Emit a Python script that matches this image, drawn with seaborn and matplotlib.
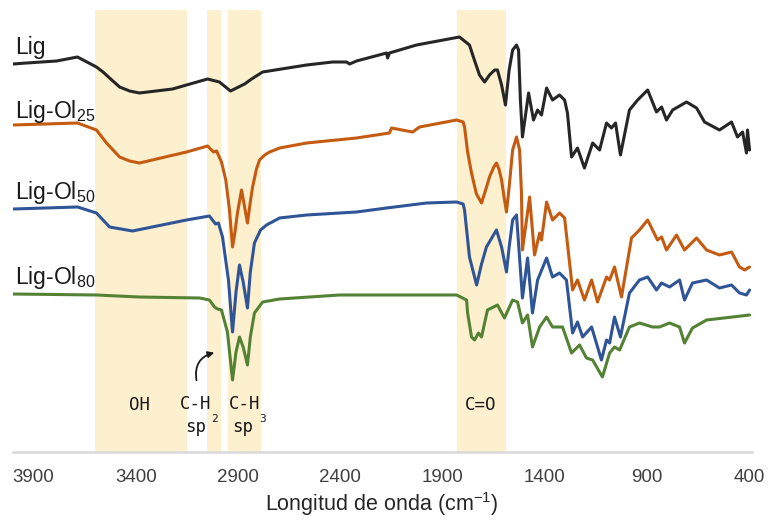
import numpy as np
import pandas as pd
import matplotlib.pyplot as plt
import seaborn as sns

# FTIR spectra (wavenumber cm-1, offset transmittance a.u.)
lig_wn = [4000, 3934, 3787, 3685, 3592, 3560, 3528, 3479, 3430, 3382, 3220, 3152, 3049, 2991, 2937,
          2868, 2834, 2780, 2565, 2438, 2370, 2355, 2321, 2174, 2169, 2160, 2028, 1818, 1769, 1745,
          1720, 1695, 1671, 1646, 1632, 1612, 1593, 1575, 1558, 1539, 1529, 1520, 1510, 1480, 1456,
          1436, 1417, 1392, 1363, 1329, 1304, 1290, 1270, 1241, 1207, 1167, 1133, 1099, 1075, 1055,
          1031, 987, 947, 898, 855, 830, 806, 776, 708, 659, 620, 547, 488, 459, 434, 415, 410, 400]
lig_t = [388, 389, 391, 395, 385, 380, 374, 365, 361, 359, 363, 367, 373, 370, 361,
         368, 373, 380, 387, 390, 390, 388, 391, 399, 394, 399, 407, 415, 407, 392,
         377, 370, 377, 382, 382, 367, 347, 382, 402, 407, 402, 352, 315, 359, 332,
         342, 337, 364, 352, 357, 352, 339, 295, 304, 284, 309, 302, 329, 324, 329,
         297, 342, 352, 362, 340, 345, 332, 342, 350, 344, 330, 322, 330, 315, 320, 299, 322, 302]

ol25_wn = [4000, 3685, 3592, 3543, 3479, 3430, 3382, 3152, 3049, 3020, 3005, 2981, 2960, 2942, 2927,
           2915, 2903, 2883, 2868, 2854, 2840, 2829, 2810, 2795, 2770, 2746, 2697, 2565, 2321, 2160,
           2150, 2047, 2013, 1832, 1800, 1793, 1778, 1759, 1735, 1710, 1690, 1671, 1650, 1637, 1625,
           1612, 1600, 1588, 1575, 1558, 1539, 1524, 1515, 1510, 1475, 1451, 1426, 1417, 1392, 1363,
           1329, 1304, 1265, 1241, 1207, 1172, 1143, 1099, 1084, 1060, 1026, 977, 938, 898, 850,
           830, 806, 757, 718, 659, 610, 547, 488, 449, 424, 400]
ol25_t = [327, 329, 322, 309, 295, 291, 289, 300, 306, 300, 301, 290, 272, 242, 205,
          220, 239, 262, 245, 229, 250, 265, 283, 292, 297, 300, 304, 309, 314, 319,
          324, 320, 325, 332, 330, 325, 300, 279, 258, 249, 262, 275, 285, 289, 283,
          272, 255, 240, 265, 302, 315, 302, 260, 202, 255, 197, 219, 212, 250, 232,
          239, 234, 162, 172, 152, 172, 150, 175, 172, 185, 155, 214, 222, 232, 212,
          215, 202, 217, 202, 214, 202, 197, 200, 185, 182, 185]

ol50_wn = [4000, 3685, 3592, 3560, 3528, 3416, 3152, 3040, 3010, 2996, 2976, 2947, 2927, 2910, 2893,
           2875, 2854, 2840, 2820, 2790, 2761, 2697, 2565, 2321, 2174, 1979, 1832, 1800, 1793, 1769,
           1734, 1710, 1686, 1637, 1612, 1588, 1575, 1558, 1539, 1510, 1485, 1461, 1436, 1392, 1363,
           1329, 1295, 1265, 1241, 1216, 1172, 1124, 1099, 1084, 1060, 1031, 987, 938, 898, 855,
           830, 791, 742, 718, 679, 610, 547, 488, 449, 415, 400]
ol50_t = [243, 245, 239, 232, 225, 221, 232, 236, 228, 229, 215, 172, 120, 160, 187,
          170, 144, 180, 209, 222, 227, 234, 237, 240, 244, 249, 250, 248, 242, 195,
          167, 188, 205, 222, 205, 180, 205, 232, 237, 154, 194, 139, 172, 194, 175,
          179, 172, 119, 130, 115, 125, 92, 112, 109, 135, 115, 159, 172, 175, 162,
          169, 165, 172, 152, 169, 172, 164, 167, 159, 157, 162]

ol80_wn = [4000, 3592, 3382, 3088, 3040, 3015, 3000, 2981, 2952, 2927, 2910, 2893, 2875, 2854, 2840,
           2820, 2780, 2697, 2404, 1832, 1783, 1778, 1759, 1744, 1725, 1710, 1681, 1632, 1598, 1558,
           1534, 1510, 1485, 1461, 1426, 1392, 1363, 1314, 1270, 1231, 1197, 1167, 1119, 1084, 1060,
           1035, 987, 938, 874, 840, 791, 742, 718, 679, 610, 483, 400]
ol80_t = [158, 157, 155, 154, 152, 145, 143, 142, 120, 72, 100, 115, 105, 87, 115,
          139, 150, 153, 157, 157, 152, 139, 115, 112, 119, 115, 142, 147, 134, 152,
          150, 129, 137, 105, 125, 135, 125, 125, 99, 107, 94, 92, 75, 99, 105,
          102, 125, 129, 125, 125, 129, 125, 109, 124, 132, 135, 137]

# highlighted bands (cm-1)
bands = [(3600, 3150), (3050, 2985), (2950, 2790), (1830, 1590)]
xticks = [3900, 3400, 2900, 2400, 1900, 1400, 900, 400]

sns.set_style("white")
plt.rcParams['font.family'] = ['Liberation Sans', 'DejaVu Sans']
plt.rcParams['mathtext.fontset'] = 'custom'
plt.rcParams['mathtext.rm'] = 'Liberation Sans'

W, H = 772, 521
fig = plt.figure(figsize=(W / 100, H / 100), dpi=100)
ax = fig.add_axes([13 / W, (H - 452) / H, 738.6 / W, 442 / H])

for lo, hi in bands:
    ax.axvspan(hi, lo, color='#FDF0CF', lw=0, zorder=0)

series = [(lig_wn, lig_t, '#262626'), (ol25_wn, ol25_t, '#C55A11'),
          (ol50_wn, ol50_t, '#2F5597'), (ol80_wn, ol80_t, '#548235')]
for wn, t, c in series:
    sns.lineplot(x=wn, y=t, ax=ax, color=c, linewidth=2.2, errorbar=None, zorder=3)

ax.set_xlim(4000, 390)
ax.set_ylim(0, 442)
ax.set_xticks(xticks)
ax.set_yticks([])
for s in ['left', 'top', 'right']:
    ax.spines[s].set_visible(False)
ax.spines['bottom'].set_color('#D9D9D9')
ax.spines['bottom'].set_linewidth(1.8)
ax.tick_params(axis='x', direction='inout', length=9, width=1.2, color='#BFBFBF',
               labelsize=13.5, labelcolor='#404040', pad=8)
ax.set_xlabel('Longitud de onda (cm$^{\\mathregular{-1}}$)', fontsize=15.5, color='#262626', labelpad=3)

# series labels
def ftext(x, y, s, **kw):
    fig.text(x / W, 1 - y / H, s, **kw)

lab = dict(fontsize=16.5, color='#1A1A1A', va='baseline', ha='left')
ftext(15, 54, 'Lig', **lab)
ftext(15, 118, 'Lig-Ol$_{\\mathregular{25}}$', **lab)
ftext(15, 199, 'Lig-Ol$_{\\mathregular{50}}$', **lab)
ftext(15, 284, 'Lig-Ol$_{\\mathregular{80}}$', **lab)

# band annotations
mono = dict(family='DejaVu Sans Mono', fontsize=12.5, color='#1A1A1A', va='baseline', ha='center')
ftext(140, 410, 'OH', **mono)
ftext(196, 409, 'C-H', **mono)
ftext(196, 432, 'sp', **mono)
ftext(214, 422, '2', **dict(mono, fontsize=8))
ftext(245, 409, 'C-H', **mono)
ftext(243, 432, 'sp', **mono)
ftext(263, 422, '3', **dict(mono, fontsize=8))
ftext(481, 410, 'C=O', **mono)

ax.annotate('', xy=(217, H - 352), xycoords='figure pixels',
            xytext=(197, H - 383), textcoords='figure pixels',
            arrowprops=dict(arrowstyle='-|>', color='#1A1A1A', lw=1.3,
                            connectionstyle='arc3,rad=-0.5', mutation_scale=9))

fig.savefig('out.png', dpi=100)
